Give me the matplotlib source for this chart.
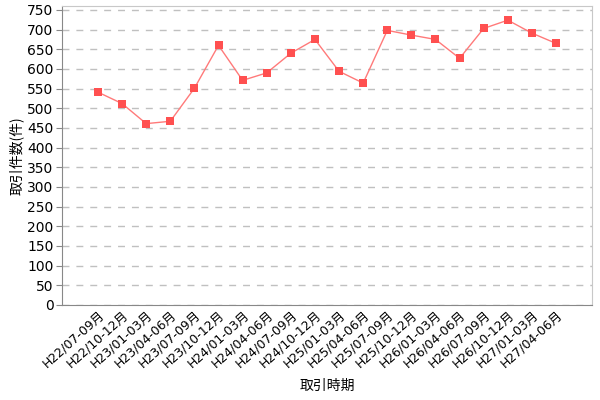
import matplotlib
matplotlib.use("Agg")
import matplotlib.pyplot as plt

plt.rcParams['font.family'] = ['DejaVu Sans', 'Noto Sans CJK JP']

periods = ["H22/07-09月", "H22/10-12月", "H23/01-03月", "H23/04-06月", "H23/07-09月",
           "H23/10-12月", "H24/01-03月", "H24/04-06月", "H24/07-09月", "H24/10-12月",
           "H25/01-03月", "H25/04-06月", "H25/07-09月", "H25/10-12月", "H26/01-03月",
           "H26/04-06月", "H26/07-09月", "H26/10-12月", "H27/01-03月", "H27/04-06月"]
counts = [541, 512, 461, 467, 551, 660, 571, 590, 640, 675,
          594, 564, 698, 686, 675, 627, 703, 724, 691, 665]
yticks = list(range(0, 751, 50))

fig = plt.figure(figsize=(6, 4), dpi=100)
ax = fig.add_axes([0.103, 0.2375, 0.884, 0.7475])
x = list(range(len(periods)))
ax.plot(x, counts, color='#ff7a7a', linewidth=1.0, zorder=3)
ax.plot(x, counts, linestyle='none', marker='s', markersize=6,
        color='#ff5050', markeredgewidth=0, zorder=4)

ax.set_xlim(-1.5, len(periods) + 0.5)
ax.set_ylim(0, 760)
ax.set_yticks(yticks)
ax.set_yticklabels([str(v) for v in yticks], fontsize=10)
ax.set_xticks(x)
ax.set_xticklabels(periods, rotation=42, ha='right', va='top', rotation_mode='anchor',
                   fontsize=9, family=['DejaVu Sans', 'Noto Sans CJK JP'])
ax.tick_params(axis='x', length=0, pad=2)
ax.tick_params(axis='y', length=4, color='#888888', pad=2)
ax.yaxis.grid(True, linestyle=(0, (5, 5)), color='#c0c0c0', linewidth=1)
ax.set_axisbelow(True)
for s in ['top', 'right']:
    ax.spines[s].set_color('#c8c8c8')
for s in ['left', 'bottom']:
    ax.spines[s].set_color('#888888')
ax.set_ylabel('取引件数(件)', fontsize=10, family=['Noto Sans CJK JP'], labelpad=2)
ax.set_xlabel('取引時期', fontsize=10, family=['Noto Sans CJK JP'])
ax.xaxis.set_label_coords(0.5, -74 / 299, transform=ax.transAxes)
fig.savefig('out.png', dpi=100)
